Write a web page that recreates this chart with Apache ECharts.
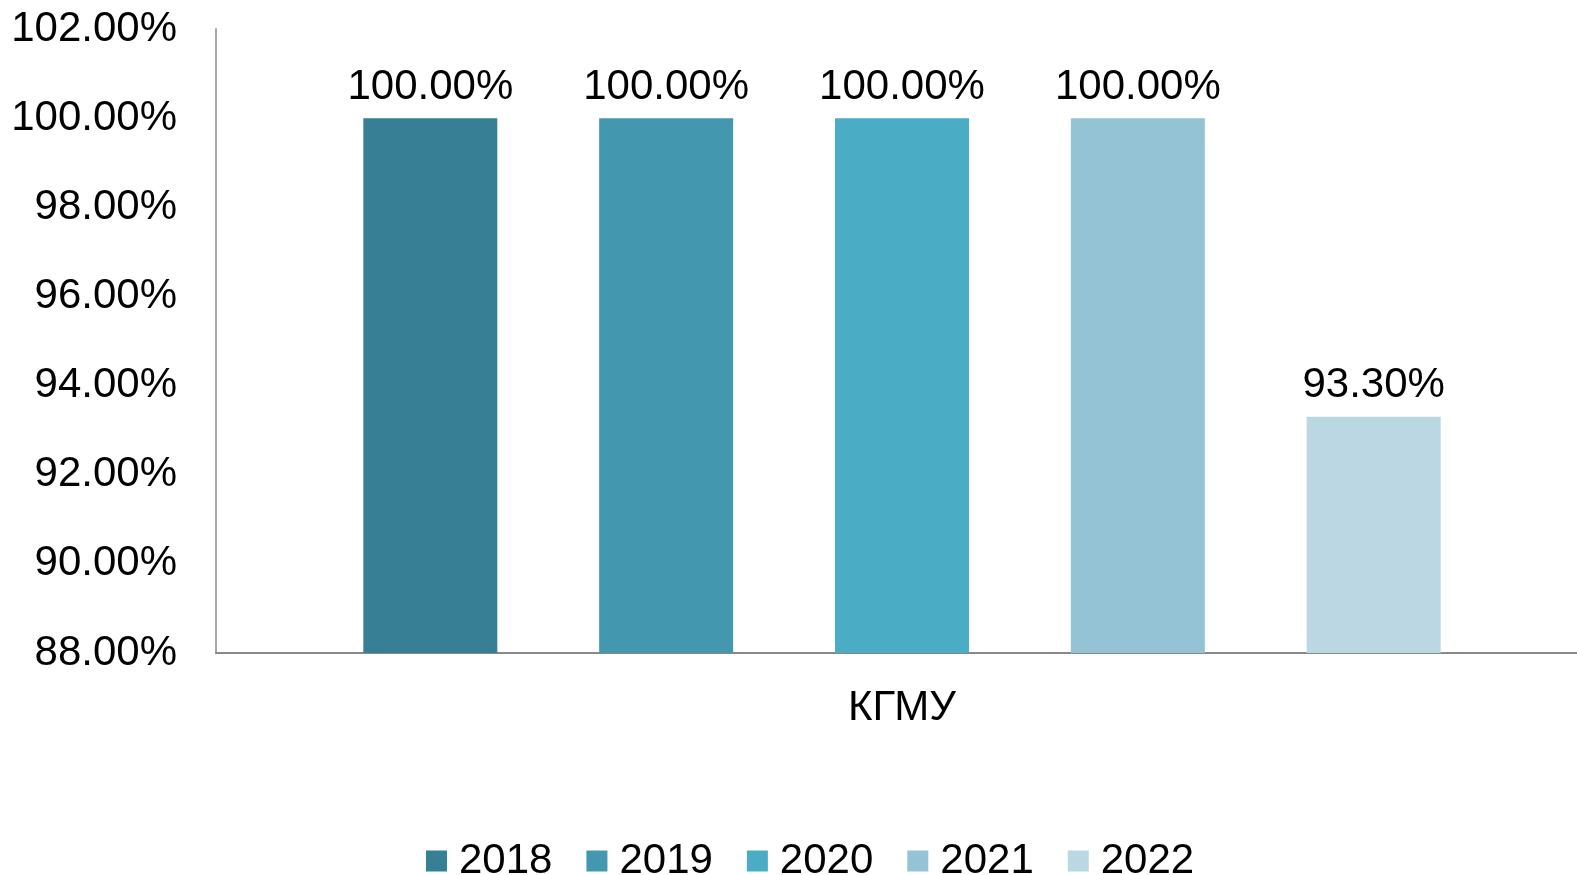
<!DOCTYPE html>
<html>
<head>
<meta charset="utf-8">
<script src="https://cdn.jsdelivr.net/npm/echarts@6/dist/echarts.min.js"></script>
<style>
  html, body { margin: 0; padding: 0; background: #fff; }
  #chart { width: 1577px; height: 875px; }
</style>
</head>
<body>
<div id="chart"></div>
<script>
// категории и данные
const categories = ['КГМУ']
const years = ['2018', '2019', '2020', '2021', '2022']
const values = [100, 100, 100, 100, 93.3]
const colors = ['#377F94', '#4398B0', '#4BACC6', '#93C3D5', '#BBD7E3']
const yMin = 88
const yMax = 102
const yStep = 2

const chart = echarts.init(document.getElementById('chart'))
const font = 'Liberation Sans, Arial, sans-serif'

const series = years.map((name, i) => ({
  name,
  type: 'bar',
  data: [values[i]],
  barWidth: 134,
  barGap: '76%',
  itemStyle: { color: colors[i] },
  label: {
    show: true,
    position: 'top',
    distance: 10,
    color: '#000',
    fontSize: 42,
    fontFamily: font,
    formatter: (p) => p.value.toFixed(2) + '%'
  }
}))

const option = {
  animation: false,
  backgroundColor: '#fff',
  grid: {
    left: 216,
    right: -11, // ось уходит за правый край
    top: 29,
    bottom: 222,
    containLabel: false,
    outerBoundsMode: 'none'
  },
  legend: {
    data: years,
    left: 421,
    top: 835,
    icon: 'rect',
    itemWidth: 21,
    itemHeight: 21,
    itemGap: 34,
    textStyle: {
      color: '#000',
      fontSize: 42,
      fontFamily: font,
      padding: [0, 0, 0, 7]
    }
  },
  xAxis: {
    type: 'category',
    data: categories,
    axisLine: { lineStyle: { color: '#898989', width: 2 } },
    axisTick: { show: false },
    axisLabel: {
      color: '#000',
      fontSize: 42,
      fontFamily: font,
      margin: 34
    }
  },
  yAxis: {
    type: 'value',
    min: yMin,
    max: yMax,
    interval: yStep,
    axisLine: { show: true, lineStyle: { color: '#A6A6A6', width: 2 } },
    axisTick: { show: false },
    splitLine: { show: false },
    axisLabel: {
      color: '#000',
      fontSize: 42,
      fontFamily: font,
      margin: 39,
      padding: [6, 0, 0, 0],
      formatter: (v) => v.toFixed(2) + '%'
    }
  },
  series
}

chart.setOption(option)
</script>
</body>
</html>
